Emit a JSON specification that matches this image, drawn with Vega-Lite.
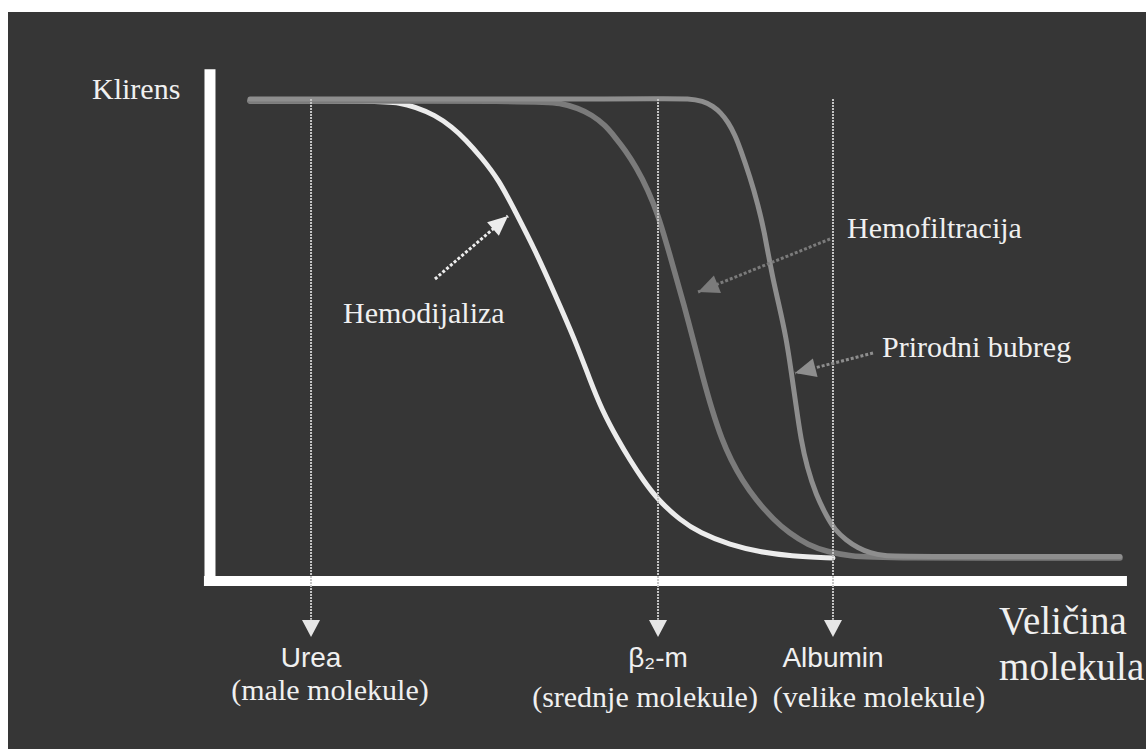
{
  "$schema": "https://vega.github.io/schema/vega-lite/v6.json",
  "width": 1138,
  "height": 737,
  "autosize": {"type": "none"},
  "padding": {"left": 8, "top": 12, "right": 0, "bottom": 0},
  "background": "#ffffff",
  "config": {"view": {"fill": "#363636", "stroke": null}},
  "datasets": {
    "curves": [
      {"series": "Hemodijaliza", "size": 4.37, "clearance": 99.96},
      {"series": "Hemodijaliza", "size": 18.56, "clearance": 99.96},
      {"series": "Hemodijaliza", "size": 20.74, "clearance": 99.55},
      {"series": "Hemodijaliza", "size": 22.38, "clearance": 98.71},
      {"series": "Hemodijaliza", "size": 24.56, "clearance": 97.05},
      {"series": "Hemodijaliza", "size": 26.42, "clearance": 94.55},
      {"series": "Hemodijaliza", "size": 27.95, "clearance": 91.84},
      {"series": "Hemodijaliza", "size": 29.59, "clearance": 88.3},
      {"series": "Hemodijaliza", "size": 31.55, "clearance": 83.51},
      {"series": "Hemodijaliza", "size": 33.41, "clearance": 76.64},
      {"series": "Hemodijaliza", "size": 35.48, "clearance": 68.93},
      {"series": "Hemodijaliza", "size": 37.45, "clearance": 60.6},
      {"series": "Hemodijaliza", "size": 39.85, "clearance": 50.18},
      {"series": "Hemodijaliza", "size": 41.48, "clearance": 41.85},
      {"series": "Hemodijaliza", "size": 42.79, "clearance": 35.61},
      {"series": "Hemodijaliza", "size": 44.54, "clearance": 29.36},
      {"series": "Hemodijaliza", "size": 45.85, "clearance": 25.19},
      {"series": "Hemodijaliza", "size": 47.27, "clearance": 21.03},
      {"series": "Hemodijaliza", "size": 48.91, "clearance": 16.86},
      {"series": "Hemodijaliza", "size": 51.31, "clearance": 12.69},
      {"series": "Hemodijaliza", "size": 53.49, "clearance": 9.99},
      {"series": "Hemodijaliza", "size": 56.77, "clearance": 7.49},
      {"series": "Hemodijaliza", "size": 60.04, "clearance": 6.03},
      {"series": "Hemodijaliza", "size": 63.32, "clearance": 5.2},
      {"series": "Hemodijaliza", "size": 68.01, "clearance": 4.78},
      {"series": "Hemofiltracija", "size": 4.37, "clearance": 99.96},
      {"series": "Hemofiltracija", "size": 36.03, "clearance": 99.96},
      {"series": "Hemofiltracija", "size": 38.21, "clearance": 99.55},
      {"series": "Hemofiltracija", "size": 40.17, "clearance": 98.5},
      {"series": "Hemofiltracija", "size": 41.7, "clearance": 97.05},
      {"series": "Hemofiltracija", "size": 43.12, "clearance": 94.96},
      {"series": "Hemofiltracija", "size": 44.21, "clearance": 92.46},
      {"series": "Hemofiltracija", "size": 45.31, "clearance": 89.76},
      {"series": "Hemofiltracija", "size": 46.51, "clearance": 86.22},
      {"series": "Hemofiltracija", "size": 47.82, "clearance": 81.43},
      {"series": "Hemofiltracija", "size": 48.91, "clearance": 76.22},
      {"series": "Hemofiltracija", "size": 49.89, "clearance": 69.97},
      {"series": "Hemofiltracija", "size": 50.66, "clearance": 64.76},
      {"series": "Hemofiltracija", "size": 51.75, "clearance": 57.47},
      {"series": "Hemofiltracija", "size": 52.84, "clearance": 49.56},
      {"series": "Hemofiltracija", "size": 53.82, "clearance": 42.27},
      {"series": "Hemofiltracija", "size": 54.8, "clearance": 35.61},
      {"series": "Hemofiltracija", "size": 55.9, "clearance": 29.36},
      {"series": "Hemofiltracija", "size": 56.88, "clearance": 25.19},
      {"series": "Hemofiltracija", "size": 58.08, "clearance": 21.03},
      {"series": "Hemofiltracija", "size": 59.61, "clearance": 16.86},
      {"series": "Hemofiltracija", "size": 61.57, "clearance": 12.69},
      {"series": "Hemofiltracija", "size": 63.21, "clearance": 9.99},
      {"series": "Hemofiltracija", "size": 65.28, "clearance": 7.49},
      {"series": "Hemofiltracija", "size": 67.47, "clearance": 6.03},
      {"series": "Hemofiltracija", "size": 69.87, "clearance": 5.2},
      {"series": "Hemofiltracija", "size": 73.14, "clearance": 4.78},
      {"series": "Hemofiltracija", "size": 99.34, "clearance": 4.78},
      {"series": "Prirodni bubreg", "size": 4.37, "clearance": 100.38},
      {"series": "Prirodni bubreg", "size": 50.22, "clearance": 100.38},
      {"series": "Prirodni bubreg", "size": 52.18, "clearance": 100.48},
      {"series": "Prirodni bubreg", "size": 53.82, "clearance": 99.96},
      {"series": "Prirodni bubreg", "size": 54.91, "clearance": 98.92},
      {"series": "Prirodni bubreg", "size": 55.79, "clearance": 97.46},
      {"series": "Prirodni bubreg", "size": 56.55, "clearance": 95.59},
      {"series": "Prirodni bubreg", "size": 57.31, "clearance": 92.88},
      {"series": "Prirodni bubreg", "size": 57.86, "clearance": 90.17},
      {"series": "Prirodni bubreg", "size": 58.95, "clearance": 84.13},
      {"series": "Prirodni bubreg", "size": 59.83, "clearance": 78.3},
      {"series": "Prirodni bubreg", "size": 60.48, "clearance": 73.09},
      {"series": "Prirodni bubreg", "size": 61.35, "clearance": 63.72},
      {"series": "Prirodni bubreg", "size": 62.12, "clearance": 57.47},
      {"series": "Prirodni bubreg", "size": 62.88, "clearance": 50.81},
      {"series": "Prirodni bubreg", "size": 63.43, "clearance": 43.94},
      {"series": "Prirodni bubreg", "size": 63.97, "clearance": 36.65},
      {"series": "Prirodni bubreg", "size": 64.52, "clearance": 29.36},
      {"series": "Prirodni bubreg", "size": 65.17, "clearance": 23.73},
      {"series": "Prirodni bubreg", "size": 66.16, "clearance": 17.9},
      {"series": "Prirodni bubreg", "size": 67.36, "clearance": 13.32},
      {"series": "Prirodni bubreg", "size": 68.23, "clearance": 10.61},
      {"series": "Prirodni bubreg", "size": 69.43, "clearance": 8.53},
      {"series": "Prirodni bubreg", "size": 70.74, "clearance": 6.86},
      {"series": "Prirodni bubreg", "size": 72.05, "clearance": 5.82},
      {"series": "Prirodni bubreg", "size": 73.69, "clearance": 5.2},
      {"series": "Prirodni bubreg", "size": 75.33, "clearance": 5.1},
      {"series": "Prirodni bubreg", "size": 99.34, "clearance": 5.1}
    ],
    "molecules": [
      {"molecule": "Urea", "note": "(male molekule)", "size": 11.03, "note_size": 13.1, "note_clearance": -24.8},
      {"molecule": "β₂-m", "note": "(srednje molekule)", "size": 48.91, "note_size": 47.49, "note_clearance": -26.25},
      {"molecule": "Albumin", "note": "(velike molekule)", "size": 68.01, "note_size": 73.03, "note_clearance": -26.25}
    ],
    "annotations": [
      {"series": "Hemodijaliza", "text_size": 14.52, "text_clearance": 53.72, "from_size": 24.56, "from_clearance": 62.89, "to_size": 32.53, "to_clearance": 76.01},
      {"series": "Hemofiltracija", "text_size": 69.54, "text_clearance": 71.43, "from_size": 67.69, "from_clearance": 71.22, "to_size": 53.28, "to_clearance": 60.18},
      {"series": "Prirodni bubreg", "text_size": 73.36, "text_clearance": 46.65, "from_size": 72.38, "from_clearance": 47.48, "to_size": 63.86, "to_clearance": 43.31}
    ],
    "titles": [
      {"text": "Klirens", "size": -12.88, "clearance": 100.38, "kind": "y"},
      {"text": "Veličina", "size": 86.14, "clearance": -11.05, "kind": "x"},
      {"text": "molekula", "size": 86.14, "clearance": -20.61, "kind": "x"}
    ]
  },
  "layer": [
    {
      "data": {"values": [{}]},
      "mark": {"type": "rule", "color": "#ffffff", "strokeWidth": 11},
      "encoding": {
        "x": {"datum": 0, "type": "quantitative", "scale": {"domain": [-22.05, 102.18], "nice": false, "zero": false}, "axis": null},
        "y": {"datum": -1.05, "type": "quantitative", "scale": {"domain": [-35, 118.5], "nice": false, "zero": false}, "axis": null},
        "y2": {"datum": 106.6}
      }
    },
    {
      "data": {"values": [{}]},
      "mark": {"type": "rule", "color": "#ffffff", "strokeWidth": 10},
      "encoding": {
        "x": {"datum": -0.66, "type": "quantitative", "scale": {"domain": [-22.05, 102.18], "nice": false, "zero": false}, "axis": null},
        "x2": {"datum": 100.1},
        "y": {"datum": 0, "type": "quantitative", "scale": {"domain": [-35, 118.5], "nice": false, "zero": false}, "axis": null}
      }
    },
    {
      "data": {"name": "curves"},
      "transform": [{"filter": "datum.series === 'Hemodijaliza'"}],
      "mark": {"type": "line", "interpolate": "basis", "strokeWidth": 5, "strokeCap": "round"},
      "encoding": {
        "x": {"field": "size", "type": "quantitative", "scale": {"domain": [-22.05, 102.18], "nice": false, "zero": false}, "axis": null},
        "y": {"field": "clearance", "type": "quantitative", "scale": {"domain": [-35, 118.5], "nice": false, "zero": false}, "axis": null},
        "color": {"field": "series", "type": "nominal", "scale": {"domain": ["Hemodijaliza", "Hemofiltracija", "Prirodni bubreg"], "range": ["#ececec", "#7b7b7b", "#8e8e8e"]}, "legend": null}
      }
    },
    {
      "data": {"name": "curves"},
      "transform": [{"filter": "datum.series === 'Hemofiltracija'"}],
      "mark": {"type": "line", "interpolate": "basis", "strokeWidth": 5.5, "strokeCap": "round"},
      "encoding": {
        "x": {"field": "size", "type": "quantitative", "scale": {"domain": [-22.05, 102.18], "nice": false, "zero": false}, "axis": null},
        "y": {"field": "clearance", "type": "quantitative", "scale": {"domain": [-35, 118.5], "nice": false, "zero": false}, "axis": null},
        "color": {"field": "series", "type": "nominal", "legend": null}
      }
    },
    {
      "data": {"name": "curves"},
      "transform": [{"filter": "datum.series === 'Prirodni bubreg'"}],
      "mark": {"type": "line", "interpolate": "basis", "strokeWidth": 5, "strokeCap": "round"},
      "encoding": {
        "x": {"field": "size", "type": "quantitative", "scale": {"domain": [-22.05, 102.18], "nice": false, "zero": false}, "axis": null},
        "y": {"field": "clearance", "type": "quantitative", "scale": {"domain": [-35, 118.5], "nice": false, "zero": false}, "axis": null},
        "color": {"field": "series", "type": "nominal", "legend": null}
      }
    },
    {
      "data": {"name": "molecules"},
      "mark": {"type": "rule", "color": "#c4c4c4", "strokeWidth": 2, "strokeDash": [2, 1]},
      "encoding": {
        "x": {"field": "size", "type": "quantitative", "scale": {"domain": [-22.05, 102.18], "nice": false, "zero": false}, "axis": null},
        "y": {"datum": 100.4, "type": "quantitative", "scale": {"domain": [-35, 118.5], "nice": false, "zero": false}, "axis": null},
        "y2": {"datum": -8.1}
      }
    },
    {
      "data": {"name": "molecules"},
      "mark": {"type": "point", "shape": "M0,0L0.5,-0.95L-0.5,-0.95Z", "filled": true, "opacity": 1, "color": "#e6e6e6", "size": 1296, "strokeWidth": 0},
      "encoding": {
        "x": {"field": "size", "type": "quantitative", "scale": {"domain": [-22.05, 102.18], "nice": false, "zero": false}, "axis": null},
        "y": {"datum": -11.68, "type": "quantitative", "scale": {"domain": [-35, 118.5], "nice": false, "zero": false}, "axis": null}
      }
    },
    {
      "data": {"name": "molecules"},
      "mark": {"type": "text", "font": "Liberation Sans", "fontSize": 28, "color": "#f0f0f0", "align": "center", "baseline": "alphabetic"},
      "encoding": {
        "x": {"field": "size", "type": "quantitative", "scale": {"domain": [-22.05, 102.18], "nice": false, "zero": false}, "axis": null},
        "y": {"datum": -17.9, "type": "quantitative", "scale": {"domain": [-35, 118.5], "nice": false, "zero": false}, "axis": null},
        "text": {"field": "molecule"}
      }
    },
    {
      "data": {"name": "molecules"},
      "mark": {"type": "text", "font": "Liberation Serif", "fontSize": 30, "color": "#f0f0f0", "align": "center", "baseline": "alphabetic"},
      "encoding": {
        "x": {"field": "note_size", "type": "quantitative", "scale": {"domain": [-22.05, 102.18], "nice": false, "zero": false}, "axis": null},
        "y": {"field": "note_clearance", "type": "quantitative", "scale": {"domain": [-35, 118.5], "nice": false, "zero": false}, "axis": null},
        "text": {"field": "note"}
      }
    },
    {
      "data": {"name": "annotations"},
      "mark": {"type": "rule", "strokeWidth": 3, "strokeDash": [3, 2]},
      "encoding": {
        "x": {"field": "from_size", "type": "quantitative", "scale": {"domain": [-22.05, 102.18], "nice": false, "zero": false}, "axis": null},
        "y": {"field": "from_clearance", "type": "quantitative", "scale": {"domain": [-35, 118.5], "nice": false, "zero": false}, "axis": null},
        "x2": {"field": "to_size"},
        "y2": {"field": "to_clearance"},
        "color": {"field": "series", "type": "nominal", "legend": null}
      }
    },
    {
      "data": {"name": "annotations"},
      "transform": [{"filter": "datum.series === 'Hemodijaliza'"}],
      "mark": {"type": "point", "shape": "M0,0L0.5,1.1L-0.5,1.1Z", "filled": true, "opacity": 1, "size": 1296, "angle": 49.2, "strokeWidth": 0},
      "encoding": {
        "x": {"field": "to_size", "type": "quantitative", "scale": {"domain": [-22.05, 102.18], "nice": false, "zero": false}, "axis": null},
        "y": {"field": "to_clearance", "type": "quantitative", "scale": {"domain": [-35, 118.5], "nice": false, "zero": false}, "axis": null},
        "color": {"field": "series", "type": "nominal", "legend": null}
      }
    },
    {
      "data": {"name": "annotations"},
      "transform": [{"filter": "datum.series === 'Hemofiltracija'"}],
      "mark": {"type": "point", "shape": "M0,0L0.5,1.1L-0.5,1.1Z", "filled": true, "opacity": 1, "size": 1444, "angle": 248.1, "strokeWidth": 0},
      "encoding": {
        "x": {"field": "to_size", "type": "quantitative", "scale": {"domain": [-22.05, 102.18], "nice": false, "zero": false}, "axis": null},
        "y": {"field": "to_clearance", "type": "quantitative", "scale": {"domain": [-35, 118.5], "nice": false, "zero": false}, "axis": null},
        "color": {"field": "series", "type": "nominal", "legend": null}
      }
    },
    {
      "data": {"name": "annotations"},
      "transform": [{"filter": "datum.series === 'Prirodni bubreg'"}],
      "mark": {"type": "point", "shape": "M0,0L0.5,1.1L-0.5,1.1Z", "filled": true, "opacity": 1, "size": 1444, "angle": 255.6, "strokeWidth": 0},
      "encoding": {
        "x": {"field": "to_size", "type": "quantitative", "scale": {"domain": [-22.05, 102.18], "nice": false, "zero": false}, "axis": null},
        "y": {"field": "to_clearance", "type": "quantitative", "scale": {"domain": [-35, 118.5], "nice": false, "zero": false}, "axis": null},
        "color": {"field": "series", "type": "nominal", "legend": null}
      }
    },
    {
      "data": {"name": "annotations"},
      "mark": {"type": "text", "font": "Liberation Serif", "fontSize": 30, "color": "#f0f0f0", "align": "left", "baseline": "alphabetic"},
      "encoding": {
        "x": {"field": "text_size", "type": "quantitative", "scale": {"domain": [-22.05, 102.18], "nice": false, "zero": false}, "axis": null},
        "y": {"field": "text_clearance", "type": "quantitative", "scale": {"domain": [-35, 118.5], "nice": false, "zero": false}, "axis": null},
        "text": {"field": "series"}
      }
    },
    {
      "data": {"name": "titles"},
      "transform": [{"filter": "datum.kind === 'y'"}],
      "mark": {"type": "text", "font": "Liberation Serif", "fontSize": 30, "color": "#f0f0f0", "align": "left", "baseline": "alphabetic"},
      "encoding": {
        "x": {"field": "size", "type": "quantitative", "scale": {"domain": [-22.05, 102.18], "nice": false, "zero": false}, "axis": null},
        "y": {"field": "clearance", "type": "quantitative", "scale": {"domain": [-35, 118.5], "nice": false, "zero": false}, "axis": null},
        "text": {"field": "text"}
      }
    },
    {
      "data": {"name": "titles"},
      "transform": [{"filter": "datum.kind === 'x'"}],
      "mark": {"type": "text", "font": "Liberation Serif", "fontSize": 39, "color": "#f0f0f0", "align": "left", "baseline": "alphabetic"},
      "encoding": {
        "x": {"field": "size", "type": "quantitative", "scale": {"domain": [-22.05, 102.18], "nice": false, "zero": false}, "axis": null},
        "y": {"field": "clearance", "type": "quantitative", "scale": {"domain": [-35, 118.5], "nice": false, "zero": false}, "axis": null},
        "text": {"field": "text"}
      }
    }
  ]
}
